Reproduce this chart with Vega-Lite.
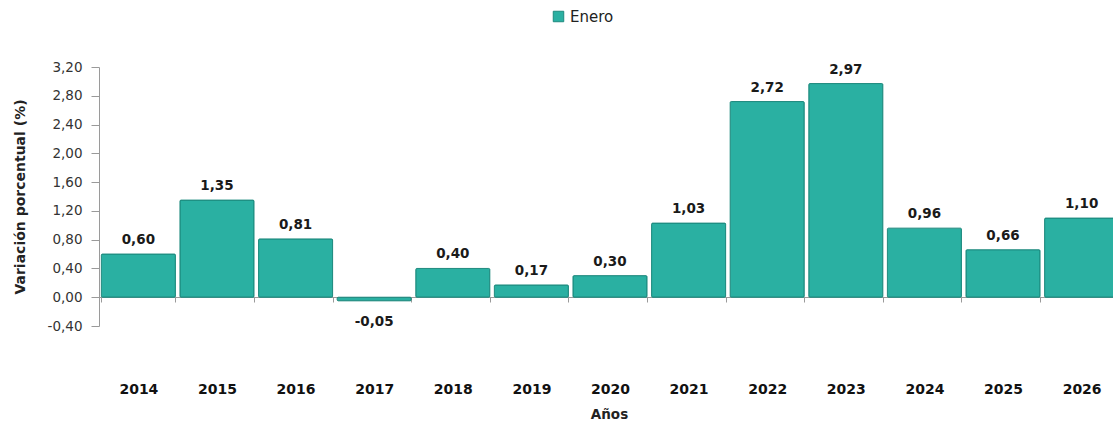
{
  "$schema": "https://vega.github.io/schema/vega-lite/v6.json",
  "width": 1022,
  "height": 259,
  "autosize": {"type": "none"},
  "padding": {"left": 99, "top": 67, "right": 0, "bottom": 96},
  "background": "white",
  "config": {
    "view": {"stroke": null},
    "locale": {"number": {"decimal": ",", "thousands": ".", "grouping": [3], "currency": ["", " €"], "minus": "-"}},
    "font": "DejaVu Sans"
  },
  "data": {
    "values": [
      {"anio": "2014", "valor": 0.60, "serie": "Enero"},
      {"anio": "2015", "valor": 1.35, "serie": "Enero"},
      {"anio": "2016", "valor": 0.81, "serie": "Enero"},
      {"anio": "2017", "valor": -0.05, "serie": "Enero"},
      {"anio": "2018", "valor": 0.40, "serie": "Enero"},
      {"anio": "2019", "valor": 0.17, "serie": "Enero"},
      {"anio": "2020", "valor": 0.30, "serie": "Enero"},
      {"anio": "2021", "valor": 1.03, "serie": "Enero"},
      {"anio": "2022", "valor": 2.72, "serie": "Enero"},
      {"anio": "2023", "valor": 2.97, "serie": "Enero"},
      {"anio": "2024", "valor": 0.96, "serie": "Enero"},
      {"anio": "2025", "valor": 0.66, "serie": "Enero"},
      {"anio": "2026", "valor": 1.10, "serie": "Enero"}
    ]
  },
  "encoding": {
    "x": {
      "field": "anio", "type": "nominal", "sort": null,
      "scale": {"paddingInner": 0.058, "paddingOuter": 0.03},
      "axis": {
        "title": "Años", "titleFont": "DejaVu Sans", "titleFontSize": 13.5, "titleFontWeight": "bold", "titleColor": "#222",
        "titlePadding": 11, "titleX": 510,
        "labelAngle": 0, "labelFont": "DejaVu Sans", "labelFontSize": 14, "labelFontWeight": "bold", "labelColor": "#111",
        "labelPadding": 80, "offset": -29,
        "domainColor": "#9a9a9a", "tickColor": "#9a9a9a", "tickBand": "extent", "tickSize": 5
      }
    },
    "y": {
      "field": "valor", "type": "quantitative",
      "scale": {"domain": [-0.4, 3.2], "nice": false, "zero": false},
      "axis": {
        "title": "Variación porcentual (%)", "titleFont": "DejaVu Sans", "titleFontSize": 14, "titleFontWeight": "bold", "titleColor": "#222",
        "titlePadding": 20,
        "values": [-0.4, 0, 0.4, 0.8, 1.2, 1.6, 2.0, 2.4, 2.8, 3.2],
        "tickCount": 12,
        "format": ".2f", "labelFont": "DejaVu Sans", "labelFontSize": 13.5, "labelColor": "#333",
        "labelOverlap": false, "labelFlush": false,
        "grid": false, "domainColor": "#9a9a9a", "tickColor": "#9a9a9a", "tickSize": 8, "labelPadding": 9
      }
    }
  },
  "layer": [
    {
      "mark": {"type": "bar", "color": "#2AB0A2", "stroke": "#1d8a7e", "strokeWidth": 1, "cornerRadius": 1},
      "encoding": {
        "fill": {
          "field": "serie", "type": "nominal",
          "scale": {"range": ["#2AB0A2"]},
          "legend": {
            "title": null, "orient": "none", "legendX": 452, "legendY": -58,
            "symbolType": "square", "symbolSize": 110, "symbolStrokeColor": "#1d8a7e", "symbolStrokeWidth": 1,
            "labelFont": "DejaVu Sans", "labelFontSize": 15, "labelColor": "#222", "labelOffset": 4
          }
        }
      }
    },
    {
      "mark": {"type": "text", "fontWeight": "bold", "fontSize": 13.5, "font": "DejaVu Sans", "color": "#1a1a1a", "baseline": "bottom", "dy": -7},
      "transform": [{"filter": "datum.valor >= 0"}],
      "encoding": {
        "text": {"field": "valor", "type": "quantitative", "format": ".2f"}
      }
    },
    {
      "mark": {"type": "text", "fontWeight": "bold", "fontSize": 13.5, "font": "DejaVu Sans", "color": "#1a1a1a", "baseline": "top", "dy": 14},
      "transform": [{"filter": "datum.valor < 0"}],
      "encoding": {
        "text": {"field": "valor", "type": "quantitative", "format": ".2f"}
      }
    }
  ]
}
